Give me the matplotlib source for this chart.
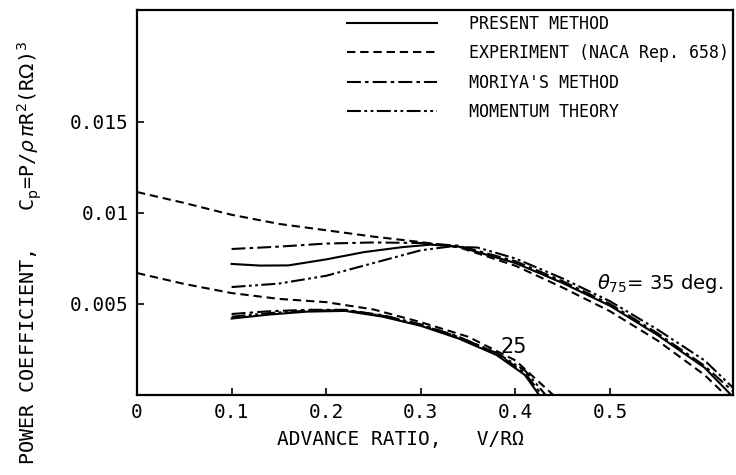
import matplotlib
matplotlib.use("Agg")
import matplotlib.pyplot as plt
from matplotlib.ticker import FixedLocator, FixedFormatter

# =============== Settings ===============
OUTFILE   = "out.png"
MONO      = "DejaVu Sans Mono"
LINE_W    = 1.5
plt.rcParams["lines.scale_dashes"] = False

# dash patterns (points)
STYLES = {
    "present":    "-",
    "experiment": (0, (6, 3.5)),
    "moriya":     (0, (10, 3, 2.5, 3)),
    "momentum":   (0, (10, 2.5, 2, 2.5, 2, 2.5)),
}
LABELS = {
    "present":    "PRESENT METHOD",
    "experiment": "EXPERIMENT (NACA Rep. 658)",
    "moriya":     "MORIYA'S METHOD",
    "momentum":   "MOMENTUM THEORY",
}

# =============== Data ===============
# theta_75 = 35 deg
mu35_present = [0.10, 0.13, 0.16, 0.20, 0.24, 0.28, 0.31, 0.34, 0.40, 0.45, 0.50, 0.55, 0.60, 0.628]
cp35_present = [0.00720, 0.00711, 0.00712, 0.00745, 0.00785, 0.00812, 0.00826, 0.00815,
                0.00725, 0.00615, 0.00490, 0.00330, 0.00150, 0.0]

mu35_exp = [0.0, 0.05, 0.10, 0.15, 0.20, 0.25, 0.30, 0.34, 0.40, 0.45, 0.50, 0.55, 0.60, 0.622]
cp35_exp = [0.01115, 0.01055, 0.00990, 0.00940, 0.00905, 0.00870, 0.00840, 0.00812,
            0.00710, 0.00590, 0.00460, 0.00300, 0.00110, 0.0]

mu35_moriya = [0.10, 0.15, 0.20, 0.25, 0.30, 0.34, 0.40, 0.45, 0.50, 0.55, 0.60, 0.63]
cp35_moriya = [0.00802, 0.00815, 0.00832, 0.00838, 0.00835, 0.00820, 0.00735, 0.00625,
               0.00500, 0.00340, 0.00160, 0.00020]

mu35_momentum = [0.10, 0.15, 0.20, 0.25, 0.30, 0.33, 0.36, 0.40, 0.45, 0.50, 0.55, 0.60, 0.63]
cp35_momentum = [0.00593, 0.00612, 0.00655, 0.00725, 0.00795, 0.00815, 0.00810, 0.00750,
                 0.00640, 0.00515, 0.00360, 0.00190, 0.00040]

# theta_75 = 25 deg
mu25_present = [0.10, 0.14, 0.18, 0.22, 0.26, 0.30, 0.34, 0.38, 0.41, 0.425]
cp25_present = [0.00420, 0.00442, 0.00458, 0.00462, 0.00430, 0.00380, 0.00310, 0.00220, 0.00110, 0.0]

mu25_exp = [0.0, 0.05, 0.10, 0.15, 0.20, 0.25, 0.30, 0.35, 0.40, 0.44]
cp25_exp = [0.00670, 0.00610, 0.00560, 0.00528, 0.00510, 0.00470, 0.00400, 0.00320, 0.00190, 0.0]

mu25_moriya = [0.10, 0.14, 0.18, 0.22, 0.26, 0.30, 0.34, 0.38, 0.41, 0.428]
cp25_moriya = [0.00445, 0.00460, 0.00468, 0.00468, 0.00438, 0.00388, 0.00320, 0.00230, 0.00120, 0.0]

mu25_momentum = [0.10, 0.14, 0.18, 0.22, 0.26, 0.30, 0.34, 0.38, 0.41, 0.432]
cp25_momentum = [0.00430, 0.00450, 0.00463, 0.00466, 0.00435, 0.00385, 0.00318, 0.00232, 0.00135, 0.0]

x_ticks       = [0, 0.1, 0.2, 0.3, 0.4, 0.5]
x_tick_labels = ["0", "0.1", "0.2", "0.3", "0.4", "0.5"]
y_ticks       = [0.005, 0.01, 0.015]
y_tick_labels = ["0.005", "0.01", "0.015"]

# =============== Plot ===============
fig = plt.figure(figsize=(7.36, 4.75), dpi=100)
ax = fig.add_axes([137 / 736, 1 - 395 / 475, (733 - 137) / 736, (395 - 10) / 475])

curves = [
    ("present",    mu35_present,  cp35_present),
    ("experiment", mu35_exp,      cp35_exp),
    ("moriya",     mu35_moriya,   cp35_moriya),
    ("momentum",   mu35_momentum, cp35_momentum),
    ("present",    mu25_present,  cp25_present),
    ("experiment", mu25_exp,      cp25_exp),
    ("moriya",     mu25_moriya,   cp25_moriya),
    ("momentum",   mu25_momentum, cp25_momentum),
]
seen = set()
for key, xs, ys in curves:
    label = LABELS[key] if key not in seen else None
    seen.add(key)
    ax.plot(xs, ys, color="black", lw=LINE_W, linestyle=STYLES[key], label=label)

ax.set_xlim(0, 0.63)
ax.set_ylim(0, 0.02115)

ax.xaxis.set_major_locator(FixedLocator(x_ticks))
ax.xaxis.set_major_formatter(FixedFormatter(x_tick_labels))
ax.yaxis.set_major_locator(FixedLocator(y_ticks))
ax.yaxis.set_major_formatter(FixedFormatter(y_tick_labels))
ax.tick_params(direction="in", length=5, width=1.2, labelsize=14, pad=6)
for lab in ax.get_xticklabels() + ax.get_yticklabels():
    lab.set_fontfamily(MONO)
for spine in ax.spines.values():
    spine.set_linewidth(1.6)

# Legend (no frame), top right
leg = ax.legend(loc="upper left", bbox_to_anchor=(347 / 736, 1 - 15 / 475),
                bbox_transform=fig.transFigure, frameon=False,
                prop={"family": MONO, "size": 12}, handlelength=5.4,
                handletextpad=1.9, labelspacing=0.68, borderpad=0, borderaxespad=0)

# Curve annotations
ax.text(0.486, 0.00615, r"$\theta_{75}$= 35 deg.", fontsize=14, ha="left", va="center")
ax.text(0.398, 0.00264, "25", fontsize=15, ha="center", va="center")

# Axis labels
fig.text(400 / 736, 1 - 440 / 475, "ADVANCE RATIO,   V/R\u03a9", family=MONO,
         fontsize=14, ha="center", va="center")
fig.text(30 / 736, 1 - 253 / 475,
         r"POWER COEFFICIENT,   C$_{\rm p}$=P/$\rho\,\pi$R$^2$(R$\Omega$)$^3$",
         family=MONO, fontsize=14.5, rotation=90, ha="center", va="center")

fig.savefig(OUTFILE, dpi=100)
